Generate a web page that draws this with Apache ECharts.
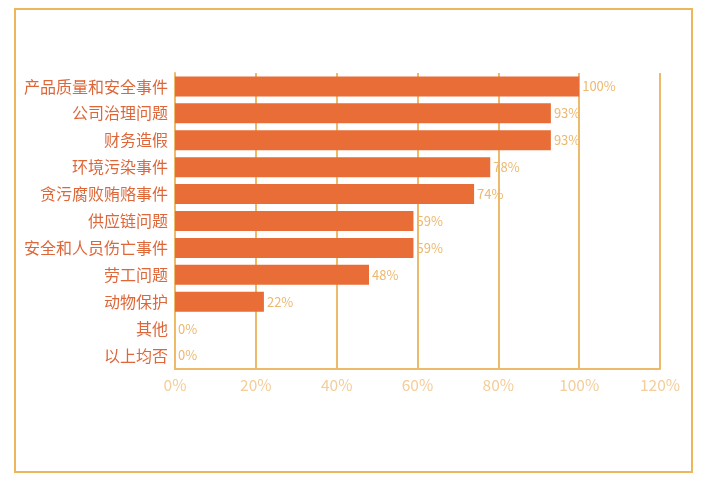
<!DOCTYPE html>
<html>
<head>
<meta charset="utf-8">
<script src="https://cdn.jsdelivr.net/npm/echarts@6/dist/echarts.min.js"></script>
<style>
html,body{margin:0;padding:0;background:#fff;}
#main{width:706px;height:477px;}
</style>
</head>
<body>
<div id="main"></div>
<script>
const categories = ['产品质量和安全事件','公司治理问题','财务造假','环境污染事件','贪污腐败贿赂事件','供应链问题','安全和人员伤亡事件','劳工问题','动物保护','其他','以上均否'];
const values = [100, 93, 93, 78, 74, 59, 59, 48, 22, 0, 0];
const xTicks = {min: 0, max: 120, interval: 20};

const chart = echarts.init(document.getElementById('main'));
const lineColor = '#EDBA6A';
chart.setOption({
  backgroundColor: '#fff',
  animation: false,
  graphic: [{
    type: 'rect',
    shape: {x: 15, y: 9, width: 677, height: 463},
    style: {fill: 'none', stroke: '#EDB65B', lineWidth: 2}
  }],
  grid: {left: 175, right: 46, top: 73, bottom: 108, containLabel: false},
  xAxis: {
    type: 'value',
    min: xTicks.min, max: xTicks.max, interval: xTicks.interval,
    axisLine: {show: true, lineStyle: {color: lineColor, width: 2}},
    axisTick: {show: false},
    splitLine: {show: true, lineStyle: {color: lineColor, width: 2}},
    axisLabel: {formatter: '{value}%', color: '#F4CD98', fontSize: 15.5, margin: 8, fontFamily: 'Noto Sans CJK SC'}
  },
  yAxis: {
    type: 'category',
    inverse: true,
    data: categories,
    axisLine: {show: true, lineStyle: {color: lineColor, width: 2}},
    axisTick: {show: false},
    axisLabel: {color: '#DE673A', fontSize: 16, margin: 7, fontFamily: 'Noto Sans CJK SC'}
  },
  series: [{
    type: 'bar',
    data: values,
    barWidth: 20,
    itemStyle: {color: '#E86D36'},
    label: {
      show: true, position: 'right', distance: 3,
      formatter: '{c}%', color: '#EDB870', fontSize: 13, fontFamily: 'Noto Sans CJK SC'
    }
  }]
});
</script>
</body>
</html>
